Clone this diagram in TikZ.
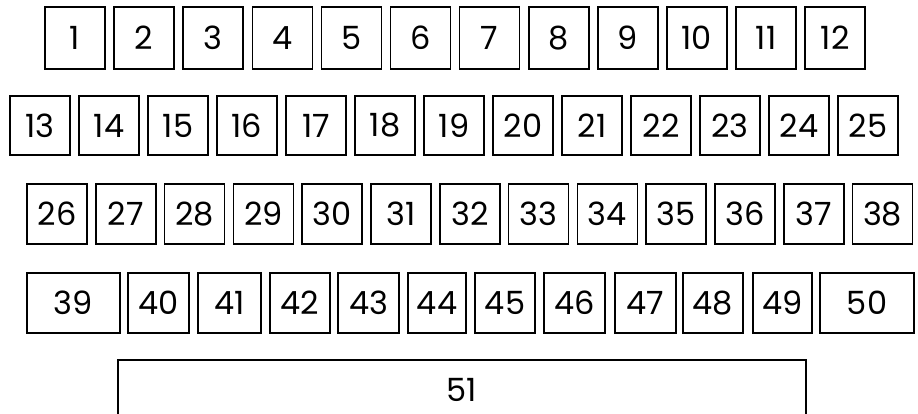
\documentclass[tikz,border=0pt]{standalone}
\usepackage{fontspec}
\setmainfont{Poppins}
\usepackage{tikz}
\usetikzlibrary{positioning}
\tikzset{
  key/.style={draw,line width=1.6pt,inner sep=0pt,font=\fontsize{32}{32}\selectfont},
}

\begin{document}
\begin{tikzpicture}[x=1pt,y=-1pt]
\useasboundingbox (0,0) rectangle (918,414);
% rows 1-3: even pitch
\foreach \first/\last/\x/\p/\ya/\yb in {
 1/12/45/69.1/7/69,
 13/25/10/69/96/155,
 26/38/27/68.8/184/244}{
  \pgfmathsetmacro{\hh}{\yb-\ya}
  \foreach \n in {\first,...,\last}{
    \pgfmathsetmacro{\xc}{\x+(\n-\first)*\p+30}
    \node[key,minimum width=60pt,minimum height=\hh pt] (k\n) at (\xc,{(\ya+\yb)/2}) {\n};
  }
}
% row 4: uneven widths
\foreach \n/\xa/\xb in {39/27/120, 40/128/189, 41/198/261, 42/270/330, 43/338/399, 44/408/466,
 45/475/535, 46/544/605, 47/615/676, 48/683/743, 49/753/812, 50/820/914}{
  \pgfmathsetmacro{\ww}{\xb-\xa}
  \node[key,minimum width=\ww pt,minimum height=60pt] (k\n) at ({(\xa+\xb)/2},303) {\n};
}
% long bar, runs off the bottom edge
\node[key,minimum width=688pt,minimum height=60pt] (k51) at (462,390) {51};
\end{tikzpicture}
\end{document}
